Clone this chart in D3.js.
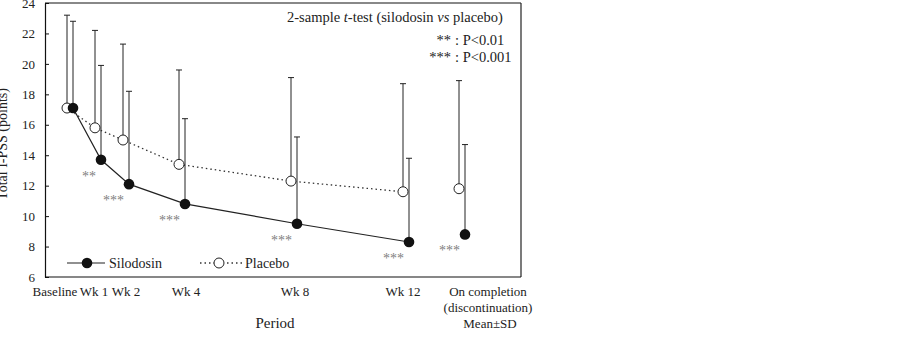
<!DOCTYPE html>
<html>
<head>
<meta charset="utf-8">
<script src="https://cdn.jsdelivr.net/npm/d3@7"></script>
<style>
  body { margin: 0; background: #fff; }
  svg { display: block; font-family: "Liberation Serif", "Times New Roman", Times, serif; }
</style>
</head>
<body>
<svg id="chart" width="922" height="340"></svg>
<script>
// Time points (weeks); "On completion" placed after Wk 12
const periods = ["Baseline", "Wk 1", "Wk 2", "Wk 4", "Wk 8", "Wk 12", "On completion"];
const weeks = [0, 1, 2, 4, 8, 12, 14];

// Mean and mean+SD
const silodosinMean = [17.1, 13.7, 12.1, 10.8, 9.5, 8.3, 8.8];
const silodosinUpper = [22.8, 19.9, 18.2, 16.4, 15.2, 13.8, 14.7];
const placeboMean = [17.1, 15.8, 15.0, 13.4, 12.3, 11.6, 11.8];
const placeboUpper = [23.2, 22.2, 21.3, 19.6, 19.1, 18.7, 18.9];

// Significance marks under silodosin points
const sigMarks = ["", "**", "***", "***", "***", "***", "***"];

const yTicks = [6, 8, 10, 12, 14, 16, 18, 20, 22, 24];

const svg = d3.select("#chart");
const serif = '"Liberation Serif", "Times New Roman", Times, serif';
const pLeft = 45, pRight = 521, pTop = 3, pBottom = 277;

const x = d3.scaleLinear().domain([0, 14]).range([70, 462]);
const y = d3.scaleLinear().domain([6, 24]).range([pBottom, pTop]);
const off = 3; // placebo left, silodosin right

// frame
svg.append("line").attr("x1", pLeft).attr("x2", pRight).attr("y1", pTop).attr("y2", pTop)
  .attr("stroke", "#888").attr("stroke-width", 2);
svg.append("line").attr("x1", pRight).attr("x2", pRight).attr("y1", pTop).attr("y2", pBottom)
  .attr("stroke", "#222").attr("stroke-width", 1.2);

// y axis with inward ticks
const yAxis = svg.append("g").attr("transform", `translate(${pLeft},0)`)
  .call(d3.axisLeft(y).tickValues(yTicks).tickSizeInner(-4).tickSizeOuter(0).tickPadding(10))
  .attr("font-family", serif);
yAxis.select(".domain").attr("stroke", "#111").attr("stroke-width", 1.2);
yAxis.selectAll("line").attr("stroke", "#111");
yAxis.selectAll("text").attr("font-size", 13).attr("fill", "#222");

// x axis baseline
svg.append("line").attr("x1", pLeft).attr("x2", pRight).attr("y1", pBottom).attr("y2", pBottom)
  .attr("stroke", "#111").attr("stroke-width", 1.2);

// x labels (nudged like the original to avoid overlap)
const labelNudge = [-15, -4, 0, 4, 1, -3, 26];
const xl = svg.append("g").attr("font-size", 13).attr("fill", "#222").attr("text-anchor", "middle");
periods.forEach((p, i) => {
  const lx = x(weeks[i]) + labelNudge[i];
  const t = xl.append("text").attr("x", lx).attr("y", 296);
  if (i === 6) {
    t.append("tspan").attr("x", lx).text("On completion");
    t.append("tspan").attr("x", lx).attr("dy", 16).text("(discontinuation)");
    t.append("tspan").attr("x", lx + 2).attr("dy", 16).text("Mean±SD");
  } else {
    t.text(p);
  }
});

svg.append("text").attr("x", 275).attr("y", 328).attr("text-anchor", "middle")
  .attr("font-size", 15).attr("fill", "#222").text("Period");

svg.append("text").attr("transform", "translate(7,144) rotate(-90)")
  .attr("text-anchor", "middle").attr("font-size", 14).attr("fill", "#222")
  .text("Total I-PSS (points)");

// error bars (upper only)
function errorBars(means, uppers, dx) {
  const g = svg.append("g").attr("stroke", "#222").attr("stroke-width", 1);
  weeks.forEach((w, i) => {
    const cx = x(w) + dx;
    g.append("line").attr("x1", cx).attr("x2", cx).attr("y1", y(means[i])).attr("y2", y(uppers[i]));
    g.append("line").attr("x1", cx - 3).attr("x2", cx + 3).attr("y1", y(uppers[i])).attr("y2", y(uppers[i]));
  });
}
errorBars(placeboMean, placeboUpper, -off);
errorBars(silodosinMean, silodosinUpper, off);

// lines (baseline to Wk 12 only)
const idx = d3.range(6);
const lineP = d3.line().x(i => x(weeks[i]) - off).y(i => y(placeboMean[i]));
const lineS = d3.line().x(i => x(weeks[i]) + off).y(i => y(silodosinMean[i]));
svg.append("path").attr("d", lineP(idx)).attr("fill", "none")
  .attr("stroke", "#333").attr("stroke-width", 1.3).attr("stroke-dasharray", "1.5,3");
svg.append("path").attr("d", lineS(idx)).attr("fill", "none")
  .attr("stroke", "#222").attr("stroke-width", 1.2);

// markers
svg.append("g").selectAll("circle").data(weeks).join("circle")
  .attr("cx", (w) => x(w) - off).attr("cy", (w, i) => y(placeboMean[i])).attr("r", 5)
  .attr("fill", "#fff").attr("stroke", "#222").attr("stroke-width", 1);
svg.append("g").selectAll("circle").data(weeks).join("circle")
  .attr("cx", (w) => x(w) + off).attr("cy", (w, i) => y(silodosinMean[i])).attr("r", 5.3)
  .attr("fill", "#111");

// significance stars
svg.append("g").attr("font-size", 14).attr("fill", "#808080").attr("text-anchor", "end")
  .selectAll("text").data(weeks).join("text")
  .attr("x", (w) => x(w) + off - 5)
  .attr("y", (w, i) => y(silodosinMean[i]) + 21)
  .text((w, i) => sigMarks[i]);

// legend
const lg = svg.append("g");
lg.append("line").attr("x1", 67).attr("x2", 105).attr("y1", 263).attr("y2", 263)
  .attr("stroke", "#222").attr("stroke-width", 1.2);
lg.append("circle").attr("cx", 87).attr("cy", 263).attr("r", 5.3).attr("fill", "#111");
lg.append("text").attr("x", 109).attr("y", 268).attr("font-size", 14).attr("fill", "#222").text("Silodosin");
lg.append("line").attr("x1", 200).attr("x2", 243).attr("y1", 263).attr("y2", 263)
  .attr("stroke", "#333").attr("stroke-width", 1.3).attr("stroke-dasharray", "1.5,3");
lg.append("circle").attr("cx", 219).attr("cy", 263).attr("r", 5).attr("fill", "#fff")
  .attr("stroke", "#222").attr("stroke-width", 1);
lg.append("text").attr("x", 245).attr("y", 268).attr("font-size", 14).attr("fill", "#222").text("Placebo");

// test annotation
const ann = svg.append("g").attr("font-size", 14.5).attr("fill", "#222");
const t1 = ann.append("text").attr("x", 287).attr("y", 22);
t1.append("tspan").text("2-sample ");
t1.append("tspan").attr("font-style", "italic").text("t");
t1.append("tspan").text("-test (silodosin ");
t1.append("tspan").attr("font-style", "italic").text("vs");
t1.append("tspan").text(" placebo)");
ann.append("text").attr("x", 451).attr("y", 45).attr("text-anchor", "end").text("**");
ann.append("text").attr("x", 455).attr("y", 45).text(": P<0.01");
ann.append("text").attr("x", 451).attr("y", 62).attr("text-anchor", "end").text("***");
ann.append("text").attr("x", 455).attr("y", 62).text(": P<0.001");
</script>
</body>
</html>
